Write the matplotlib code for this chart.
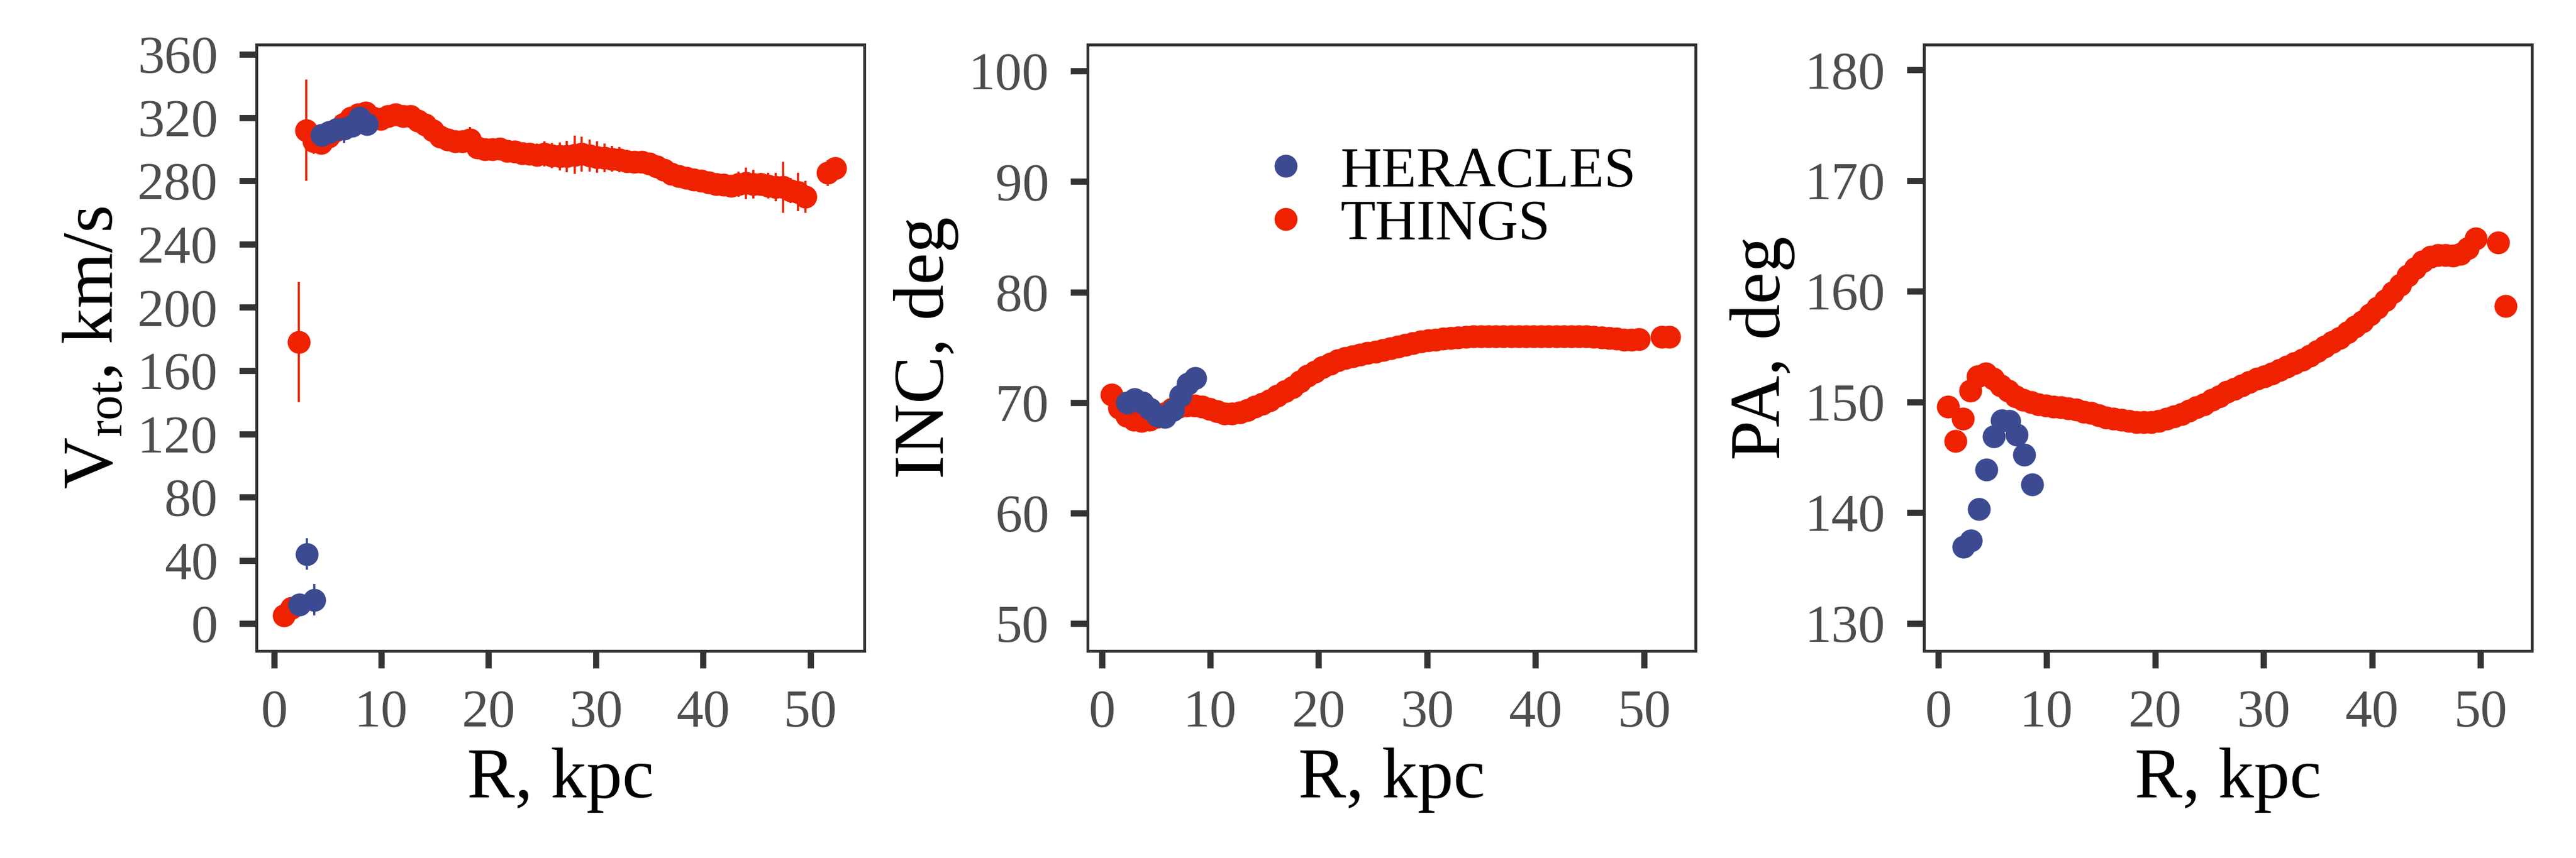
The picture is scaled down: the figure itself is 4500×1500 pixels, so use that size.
import matplotlib
matplotlib.use("Agg")
import matplotlib.pyplot as plt

# ---- data ----
# THINGS radii, kpc
r_things = [0.90, 1.60, 2.29, 2.99, 3.68, 4.38, 5.07, 5.77, 6.46, 7.16,
            7.85, 8.55, 9.24, 9.94, 10.63, 11.33, 12.02, 12.72, 13.41, 14.11,
            14.80, 15.50, 16.19, 16.89, 17.58, 18.28, 18.97, 19.67, 20.36, 21.06,
            21.75, 22.45, 23.14, 23.84, 24.53, 25.23, 25.92, 26.62, 27.31, 28.01,
            28.70, 29.40, 30.09, 30.79, 31.48, 32.18, 32.87, 33.57, 34.26, 34.96,
            35.65, 36.35, 37.04, 37.74, 38.43, 39.13, 39.82, 40.52, 41.21, 41.91,
            42.60, 43.30, 43.99, 44.69, 45.38, 46.08, 46.77, 47.47, 48.16, 48.86,
            49.55, 51.64, 52.33]
vrot_things = [5, 10, 178, 312, 305, 304, 308, 312, 316, 320,
               322, 323, 320, 319, 321, 322, 321, 321, 318, 315.5,
               312, 308, 306, 305, 305, 306, 301, 300, 300, 300.5,
               299, 298.5, 297.5, 297, 296.5, 297, 296, 295.5, 295.5, 296.5,
               297, 296, 295, 294.5, 294, 293.5, 292.5, 292, 292, 291,
               289, 287, 284.5, 283, 282, 281, 280, 279, 278, 277.5,
               277, 278, 278.5, 278, 278, 277, 276, 276, 274, 273,
               270, 285, 288]
verr_things = [1, 1, 38, 32, 8, 3, 3, 3, 3, 3,
               3, 3, 3, 3, 3, 3, 3, 3, 3, 3,
               3, 3, 3, 3, 3, 8, 4, 4, 5, 5,
               5, 6, 6, 7, 7, 8, 8, 9, 10, 12,
               11, 10, 10, 9, 8, 8, 7, 7, 6, 6,
               5, 5, 5, 5, 6, 6, 6, 6, 6, 5,
               6, 8, 10, 9, 7, 8, 9, 16, 8, 12,
               10, 8, 4]
inc_things = [70.7, 69.5, 68.8, 68.4, 68.3, 68.4, 68.7, 69.0, 69.4, 69.6,
              69.7, 69.7, 69.6, 69.4, 69.2, 69.0, 69.0, 69.1, 69.3, 69.6,
              69.9, 70.2, 70.6, 71.0, 71.4, 71.9, 72.4, 72.8, 73.2, 73.5,
              73.8, 74.0, 74.2, 74.35, 74.5, 74.6, 74.75, 74.9, 75.05, 75.2,
              75.35, 75.5, 75.6, 75.7, 75.8, 75.85, 75.9, 75.95, 76.0, 76.0,
              76.0, 76.0, 76.0, 76.0, 76.0, 76.0, 76.0, 76.0, 76.0, 76.0,
              76.0, 76.0, 76.0, 76.0, 75.95, 75.9, 75.85, 75.8, 75.7, 75.7,
              75.75, 75.95, 75.95]
pa_things = [149.6, 146.5, 148.5, 151.0, 152.3, 152.6, 152.1, 151.5, 151.0, 150.5,
             150.2, 150.0, 149.8, 149.7, 149.6, 149.5, 149.4, 149.3, 149.1, 149.0,
             148.8, 148.6, 148.5, 148.4, 148.3, 148.2, 148.2, 148.2, 148.3, 148.5,
             148.7, 148.9, 149.2, 149.5, 149.8, 150.2, 150.5, 150.9, 151.2, 151.5,
             151.8, 152.1, 152.3, 152.6, 152.9, 153.2, 153.5, 153.8, 154.2, 154.6,
             155.0, 155.4, 155.8, 156.3, 156.8, 157.3, 157.9, 158.5, 159.2, 159.9,
             160.6, 161.4, 162.1, 162.7, 163.1, 163.3, 163.3, 163.2, 163.4, 163.9,
             164.8, 164.4, 158.7]

# HERACLES
r_heracles = [2.35, 3.05, 3.75, 4.45, 5.15, 5.85, 6.55, 7.25, 7.95, 8.65]
vrot_heracles = [12, 44, 15, 309, 311, 312.5, 313, 315, 320, 316]
verr_heracles = [2, 10, 10, 4, 5, 9, 9, 6, 5, 4]
inc_heracles = [70.0, 70.3, 70.0, 69.4, 68.8, 68.7, 69.3, 70.6, 71.7, 72.2]
pa_heracles = [136.9, 137.5, 140.3, 143.9, 146.9, 148.35, 148.3, 147.05, 145.25, 142.55]

RED = "#EE2200"
BLUE = "#3C4A92"
SPINE = "#333333"
TICKLAB = "#4D4D4D"
MS = 9.6

plt.rcParams["font.family"] = ["Liberation Serif", "DejaVu Serif"]
plt.rcParams["mathtext.fontset"] = "custom"
plt.rcParams["mathtext.rm"] = "Liberation Serif"
plt.rcParams["mathtext.it"] = "Liberation Serif:italic"

# axes boxes in figure fraction (square panels)
BOTTOM, HEIGHT, WIDTH = 0.2413, 0.7067, 0.236


def style_axes(ax, xlim, ylim, yticks):
    ax.set_xlim(*xlim)
    ax.set_ylim(*ylim)
    ax.set_xticks([0, 10, 20, 30, 40, 50])
    ax.set_yticks(yticks)
    for sp in ax.spines.values():
        sp.set_color(SPINE)
        sp.set_linewidth(1.2)
    ax.tick_params(direction="out", length=7.2, width=2.6, color=SPINE,
                   labelsize=22.5, labelcolor=TICKLAB, pad=9)
    ax.set_xlabel("R, kpc", fontsize=30, labelpad=4)


fig = plt.figure(figsize=(15, 5), dpi=300)

# rotation velocity
ax1 = fig.add_axes([0.0996, BOTTOM, WIDTH, HEIGHT])
eb = dict(fmt="o", ms=MS, mew=0, elinewidth=0.9, capsize=2.2, capthick=1.0)
ax1.errorbar(r_things, vrot_things, yerr=verr_things, color=RED, ecolor=RED, **eb)
ax1.errorbar(r_heracles, vrot_heracles, yerr=verr_heracles, color=BLUE, ecolor=BLUE, **eb)
style_axes(ax1, (-1.63, 55.05), (-17.3, 366.2), range(0, 361, 40))
ax1.set_ylabel(r"$\mathrm{V_{rot}}$, km/s", fontsize=30)

# inclination
ax2 = fig.add_axes([0.4222, BOTTOM, WIDTH, HEIGHT])
h_t, = ax2.plot(r_things, inc_things, "o", ms=MS, mew=0, color=RED, label="THINGS")
h_h, = ax2.plot(r_heracles, inc_heracles, "o", ms=MS, mew=0, color=BLUE, label="HERACLES")
style_axes(ax2, (-1.3, 54.75), (47.5, 102.4), range(50, 101, 10))
ax2.set_ylabel("INC, deg", fontsize=30)
ax2.legend(handles=[h_h, h_t], loc="upper left", bbox_to_anchor=(0.185, 0.918),
           frameon=False, fontsize=24, handletextpad=0.35, labelspacing=0.02,
           handlelength=1.2)

# position angle
ax3 = fig.add_axes([0.7469, BOTTOM, WIDTH, HEIGHT])
ax3.plot(r_things, pa_things, "o", ms=MS, mew=0, color=RED)
ax3.plot(r_heracles, pa_heracles, "o", ms=MS, mew=0, color=BLUE)
style_axes(ax3, (-1.3, 54.75), (127.5, 182.3), range(130, 181, 10))
ax3.set_ylabel("PA, deg", fontsize=30)

fig.savefig("out.png", dpi=300)
